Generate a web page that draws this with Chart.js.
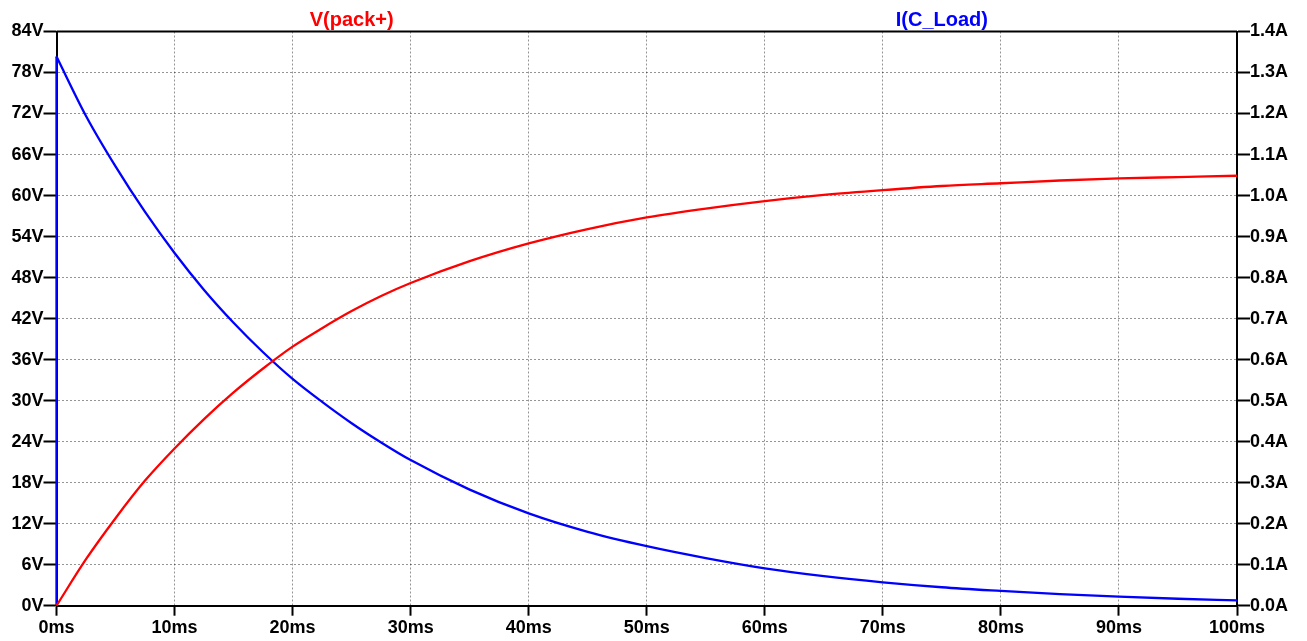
<!DOCTYPE html>
<html>
<head>
<meta charset="utf-8">
<script src="https://cdn.jsdelivr.net/npm/chart.js@4"></script>
<style>
html, body { margin: 0; padding: 0; background: #fff; overflow: hidden; }
canvas { display: block; }
</style>
</head>
<body>
<canvas id="myChart" width="1307" height="641"></canvas>
<script>
// time axis (ms) shared by both traces
var timeMs = [0, 2.5, 5, 7.5, 10, 12.5, 15, 17.5, 20, 22.5, 25, 27.5, 30, 35, 40, 45, 50, 55, 60, 65, 70, 75, 80, 85, 90, 95, 100];

// V(pack+) in volts
var packVolts = [0, 6.8, 12.8, 18.3, 23.0, 27.3, 31.2, 34.7, 37.9, 40.6, 43.1, 45.3, 47.2, 50.4, 53.0, 55.1, 56.8, 58.1, 59.2, 60.1, 60.8, 61.4, 61.8, 62.2, 62.5, 62.7, 62.9];

// I(C_Load) in amps, jumps from 0 at t=0
var loadTime = [0, 0, 2.5, 5, 7.5, 10, 12.5, 15, 17.5, 20, 22.5, 25, 27.5, 30, 35, 40, 45, 50, 55, 60, 65, 70, 75, 80, 85, 90, 95, 100];
var loadAmps = [0, 1.339, 1.194, 1.071, 0.960, 0.860, 0.770, 0.690, 0.618, 0.553, 0.497, 0.445, 0.398, 0.355, 0.283, 0.225, 0.180, 0.145, 0.116, 0.091, 0.072, 0.057, 0.045, 0.036, 0.028, 0.022, 0.017, 0.013];

var timeTicks = [0, 10, 20, 30, 40, 50, 60, 70, 80, 90, 100];
var voltTicks = [0, 6, 12, 18, 24, 30, 36, 42, 48, 54, 60, 66, 72, 78, 84];
var ampTicks = [0, 0.1, 0.2, 0.3, 0.4, 0.5, 0.6, 0.7, 0.8, 0.9, 1.0, 1.1, 1.2, 1.3, 1.4];

var fontFamily = '"Liberation Sans", Arial, sans-serif';
var tickFont = { family: fontFamily, size: 18, weight: 'bold' };
var gridColor = 'rgba(0,0,0,0.42)';

function toPoints(xs, ys, from, to) {
    let pts = [];
    for (let i = from; i < to; i++) {
        pts.push({ x: xs[i], y: ys[i] });
    }
    return pts;
}

// trace names above the plot and the top edge of the frame
const plotFrame = {
    id: 'plotFrame',
    beforeDatasetsDraw(chart) {
        const ctx = chart.ctx;
        const a = chart.chartArea;
        ctx.save();
        ctx.strokeStyle = '#000';
        ctx.lineWidth = 2;
        ctx.beginPath();
        ctx.moveTo(a.left, a.top);
        ctx.lineTo(a.right, a.top);
        ctx.stroke();
        ctx.restore();
    },
    afterDraw(chart) {
        const ctx = chart.ctx;
        const a = chart.chartArea;
        ctx.save();
        ctx.font = 'bold 20px ' + fontFamily;
        ctx.textAlign = 'center';
        ctx.textBaseline = 'alphabetic';
        ctx.fillStyle = '#ff0000';
        ctx.fillText('V(pack+)', a.left + a.width * 0.25, 26);
        ctx.fillStyle = '#0000ff';
        ctx.fillText('I(C_Load)', a.left + a.width * 0.75, 26);
        ctx.restore();
    }
};

const ctx = document.getElementById('myChart').getContext('2d');
const myChart = new Chart(ctx, {
    type: 'line',
    data: {
        datasets: [
            {
                label: 'V(pack+)',
                data: toPoints(timeMs, packVolts, 0, timeMs.length),
                borderColor: '#ff0000',
                borderWidth: 2.3,
                pointRadius: 0,
                cubicInterpolationMode: 'monotone',
                yAxisID: 'y',
                clip: 4
            },
            {
                // step at t=0
                label: 'I(C_Load)',
                data: toPoints(loadTime, loadAmps, 0, 2),
                borderColor: '#0000ff',
                borderWidth: 2.3,
                pointRadius: 0,
                tension: 0,
                yAxisID: 'yA',
                clip: 4
            },
            {
                label: 'I(C_Load)',
                data: toPoints(loadTime, loadAmps, 1, loadTime.length),
                borderColor: '#0000ff',
                borderWidth: 2.3,
                pointRadius: 0,
                cubicInterpolationMode: 'monotone',
                yAxisID: 'yA',
                clip: 4
            }
        ]
    },
    options: {
        responsive: false,
        animation: false,
        layout: { padding: { top: 31.5, left: 0, right: 0, bottom: 0 } },
        plugins: {
            legend: { display: false },
            tooltip: { enabled: false }
        },
        scales: {
            x: {
                type: 'linear',
                position: 'bottom',
                min: 0,
                max: 100,
                afterBuildTicks: function (s) { s.ticks = timeTicks.map(v => ({ value: v })); },
                afterFit: function (s) { s.height = 35.3; },
                ticks: {
                    callback: v => v + 'ms',
                    font: tickFont,
                    color: '#000',
                    padding: 2,
                    maxRotation: 0,
                    autoSkip: false
                },
                grid: { color: gridColor, lineWidth: 1, tickColor: '#000', tickWidth: 2, tickLength: 10 },
                border: { display: true, color: '#000', width: 2, dash: [2, 2] }
            },
            y: {
                type: 'linear',
                position: 'left',
                min: 0,
                max: 84,
                afterBuildTicks: function (s) { s.ticks = voltTicks.map(v => ({ value: v })); },
                afterFit: function (s) { s.width = 56.5; },
                ticks: {
                    callback: v => v + 'V',
                    font: tickFont,
                    color: '#000',
                    padding: 0,
                    autoSkip: false
                },
                grid: { color: gridColor, lineWidth: 1, tickColor: '#000', tickWidth: 2, tickLength: 13 },
                border: { display: true, color: '#000', width: 2, dash: [2, 2] }
            },
            yA: {
                type: 'linear',
                position: 'right',
                min: 0,
                max: 1.4,
                afterBuildTicks: function (s) { s.ticks = ampTicks.map(v => ({ value: v })); },
                afterFit: function (s) { s.width = 70; },
                ticks: {
                    callback: v => v.toFixed(1) + 'A',
                    font: tickFont,
                    color: '#000',
                    padding: 0,
                    autoSkip: false
                },
                grid: { drawOnChartArea: false, color: gridColor, tickColor: '#000', tickWidth: 2, tickLength: 13 },
                border: { display: true, color: '#000', width: 2 }
            }
        }
    },
    plugins: [plotFrame]
});
</script>
</body>
</html>
